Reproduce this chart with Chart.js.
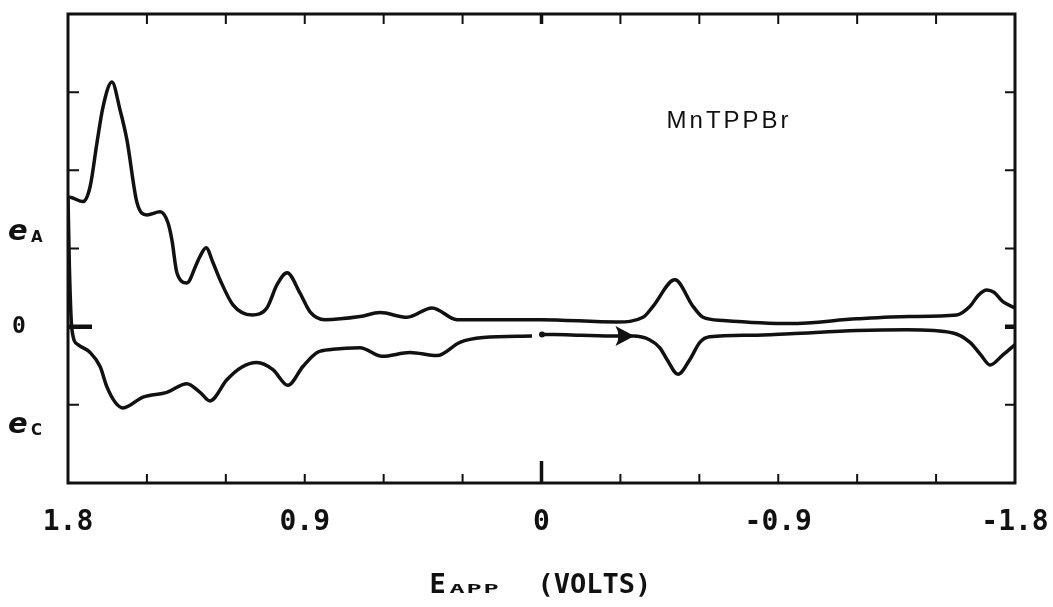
<!DOCTYPE html>
<html>
<head>
<meta charset="utf-8">
<title>MnTPPBr</title>
<script src="https://cdn.jsdelivr.net/npm/chart.js@4.4.0/dist/chart.umd.min.js"></script>
<style>
  html, body { margin: 0; padding: 0; background: #fff; }
  #wrap { width: 1053px; height: 607px; }
</style>
</head>
<body>
<div id="wrap"><canvas id="cv" width="1053" height="607"></canvas></div>
<script>
// forward sweep: 0 V -> -1.8 V (lower trace, right part)
const fwdE = [-0.002, -0.05, -0.15, -0.287, -0.348, -0.412, -0.45, -0.477, -0.519, -0.564, -0.602, -0.64, -0.8, -0.945, -1.199, -1.389, -1.564, -1.629, -1.67, -1.705, -1.754, -1.8];
const fwdI = [-0.10, -0.10, -0.11, -0.12, -0.12, -0.17, -0.27, -0.42, -0.61, -0.42, -0.20, -0.13, -0.11, -0.09, -0.05, -0.04, -0.08, -0.20, -0.36, -0.49, -0.36, -0.23];

// return sweep: -1.8 V -> +1.8 V (upper trace)
const revE = [-1.8, -1.754, -1.72, -1.693, -1.66, -1.629, -1.579, -1.4, -1.199, -0.945, -0.69, -0.614, -0.576, -0.507, -0.424, -0.386, -0.287, 0.006, 0.131, 0.321, 0.416, 0.511, 0.614, 0.69, 0.823, 0.88, 0.918, 0.967, 1.005, 1.044, 1.1, 1.173, 1.222, 1.249, 1.275, 1.298, 1.313, 1.348, 1.386, 1.405, 1.42, 1.45, 1.5, 1.538, 1.576, 1.602, 1.633, 1.667, 1.69, 1.716, 1.743, 1.785, 1.8];
const revI = [0.24, 0.32, 0.44, 0.47, 0.40, 0.26, 0.15, 0.13, 0.10, 0.04, 0.08, 0.12, 0.26, 0.60, 0.26, 0.12, 0.06, 0.09, 0.09, 0.09, 0.24, 0.12, 0.18, 0.13, 0.09, 0.19, 0.43, 0.69, 0.54, 0.24, 0.15, 0.28, 0.60, 0.82, 1.01, 0.90, 0.79, 0.56, 0.69, 1.11, 1.33, 1.47, 1.43, 1.59, 2.39, 2.77, 3.13, 2.81, 2.35, 1.79, 1.60, 1.65, 1.66];

// down the left edge and back along the lower trace to ~0 V
const endE = [1.8, 1.795, 1.785, 1.762, 1.716, 1.678, 1.652, 1.62, 1.591, 1.515, 1.424, 1.348, 1.298, 1.26, 1.196, 1.14, 1.082, 1.021, 0.964, 0.907, 0.853, 0.793, 0.69, 0.606, 0.5, 0.397, 0.31, 0.222, 0.036];
const endI = [1.66, 0.8, -0.04, -0.23, -0.33, -0.51, -0.77, -0.97, -1.04, -0.90, -0.84, -0.73, -0.84, -0.95, -0.68, -0.52, -0.46, -0.55, -0.75, -0.51, -0.33, -0.29, -0.27, -0.38, -0.33, -0.37, -0.20, -0.14, -0.12];

const xLabels = [1.8, 0.9, 0, -0.9, -1.8];
const yLabelText = [['e', 'A'], ['0', ''], ['e', 'C']];
const yLabelAt = [1.17, 0, -1.3];
const compound = 'MnTPPBr';
const arrowFrom = [-0.285, -0.12];
const arrowTo = [-0.353, -0.12];

const ink = '#111';
const mono = "'DejaVu Sans Mono', monospace";

function pts(xs, ys) {
  return xs.map((v, i) => ({ x: v, y: ys[i] }));
}

function isZero(v) { return Math.abs(v) < 1e-9; }

// inward tick marks and the frame
const frame = {
  id: 'frame',
  afterDatasetsDraw(chart) {
    const { ctx, chartArea: a, scales: { x, y } } = chart;
    ctx.save();
    ctx.strokeStyle = ink;
    ctx.lineWidth = 3;
    ctx.strokeRect(a.left, a.top, a.right - a.left, a.bottom - a.top);
    x.ticks.forEach(t => {
      const px = x.getPixelForValue(t.value);
      if (px <= a.left + 2 || px >= a.right - 2) return;
      ctx.lineWidth = isZero(t.value) ? 3.5 : 2;
      ctx.beginPath();
      ctx.moveTo(px, a.bottom);
      ctx.lineTo(px, a.bottom - (isZero(t.value) ? 22 : 9));
      ctx.moveTo(px, a.top);
      ctx.lineTo(px, a.top + 10);
      ctx.stroke();
    });
    y.ticks.forEach(t => {
      const py = y.getPixelForValue(t.value);
      if (py <= a.top + 2 || py >= a.bottom - 2) return;
      ctx.lineWidth = isZero(t.value) ? 4.5 : 2;
      ctx.beginPath();
      ctx.moveTo(a.left, py);
      ctx.lineTo(a.left + (isZero(t.value) ? 24 : 11), py);
      ctx.moveTo(a.right, py);
      ctx.lineTo(a.right - 10, py);
      ctx.stroke();
    });
    // sweep direction arrow
    const bx = x.getPixelForValue(arrowFrom[0]), by = y.getPixelForValue(arrowFrom[1]);
    const tx = x.getPixelForValue(arrowTo[0]), ty = y.getPixelForValue(arrowTo[1]);
    ctx.fillStyle = ink;
    ctx.beginPath();
    ctx.moveTo(tx, ty);
    ctx.lineTo(bx - 1, by - 10);
    ctx.quadraticCurveTo(bx + 5, by, bx - 1, by + 10);
    ctx.closePath();
    ctx.fill();
    ctx.restore();
  }
};

// side labels, compound name and axis title
const labels = {
  id: 'labels',
  afterDraw(chart) {
    const { ctx, scales: { x, y } } = chart;
    ctx.save();
    ctx.fillStyle = ink;
    ctx.textBaseline = 'middle';
    yLabelText.forEach((lab, i) => {
      const py = y.getPixelForValue(yLabelAt[i]);
      if (lab[1] === '') {
        ctx.font = 'bold 23px ' + mono;
        ctx.textAlign = 'center';
        ctx.fillText(lab[0], 19, py);
        return;
      }
      ctx.textAlign = 'left';
      ctx.font = "italic bold 29px 'DejaVu Sans'";
      ctx.fillText(lab[0], 8, py - 3);
      ctx.font = "bold 15px 'DejaVu Sans'";
      ctx.fillText(lab[1], 31, py + 3);
    });

    ctx.font = "24px 'Liberation Sans'";
    ctx.letterSpacing = '3px';
    ctx.textAlign = 'center';
    ctx.fillText(compound, x.getPixelForValue(-0.713), y.getPixelForValue(2.63));
    ctx.letterSpacing = '0px';

    const x0 = x.getPixelForValue(0);
    const base = 593;
    ctx.textAlign = 'left';
    ctx.textBaseline = 'alphabetic';
    ctx.font = 'bold 27px ' + mono;
    ctx.fillText('E', x0 - 112, base);
    ctx.save();
    ctx.translate(x0 - 92, base);
    ctx.scale(1.8, 0.85);
    ctx.font = 'bold 14px ' + mono;
    ctx.letterSpacing = '1px';
    ctx.fillText('APP', 0, 0);
    ctx.restore();
    ctx.font = 'bold 27px ' + mono;
    ctx.fillText('(VOLTS)', x0 - 4, base);
    ctx.restore();
  }
};

const trace = {
  showLine: true,
  borderColor: ink,
  borderWidth: 3.5,
  pointRadius: 0,
  cubicInterpolationMode: 'monotone',
  fill: false
};

new Chart(document.getElementById('cv'), {
  type: 'scatter',
  data: {
    datasets: [
      { ...trace, label: 'forward', data: pts(fwdE, fwdI),
        pointRadius: c => c.dataIndex === 0 ? 3 : 0, pointBackgroundColor: ink, pointBorderWidth: 0 },
      { ...trace, label: 'return', data: pts(revE, revI) },
      { ...trace, label: 'end', data: pts(endE, endI) }
    ]
  },
  options: {
    responsive: false,
    animation: false,
    devicePixelRatio: 1,
    layout: { padding: { top: 14, right: 38, left: 0, bottom: 0 } },
    plugins: { legend: { display: false }, tooltip: { enabled: false } },
    scales: {
      x: {
        type: 'linear',
        reverse: true,
        min: -1.8,
        max: 1.8,
        border: { display: false },
        grid: { drawOnChartArea: false, drawTicks: false },
        ticks: {
          stepSize: 0.3,
          autoSkip: false,
          maxRotation: 0,
          padding: 23,
          color: ink,
          font: { family: mono, size: 28, weight: 'bold' },
          callback: v => {
            const hit = xLabels.find(l => Math.abs(l - v) < 1e-6);
            if (hit === undefined) return '';
            return isZero(hit) ? '0' : hit.toFixed(1);
          }
        },
        afterFit: s => {
          s.height = 124;
          s.paddingLeft = 0;
          s.paddingRight = 0;
        }
      },
      y: {
        type: 'linear',
        min: -2,
        max: 4,
        border: { display: false },
        grid: { drawOnChartArea: false, drawTicks: false },
        ticks: { stepSize: 1, display: false },
        afterFit: s => { s.width = 68; }
      }
    }
  },
  plugins: [frame, labels]
});
</script>
</body>
</html>
